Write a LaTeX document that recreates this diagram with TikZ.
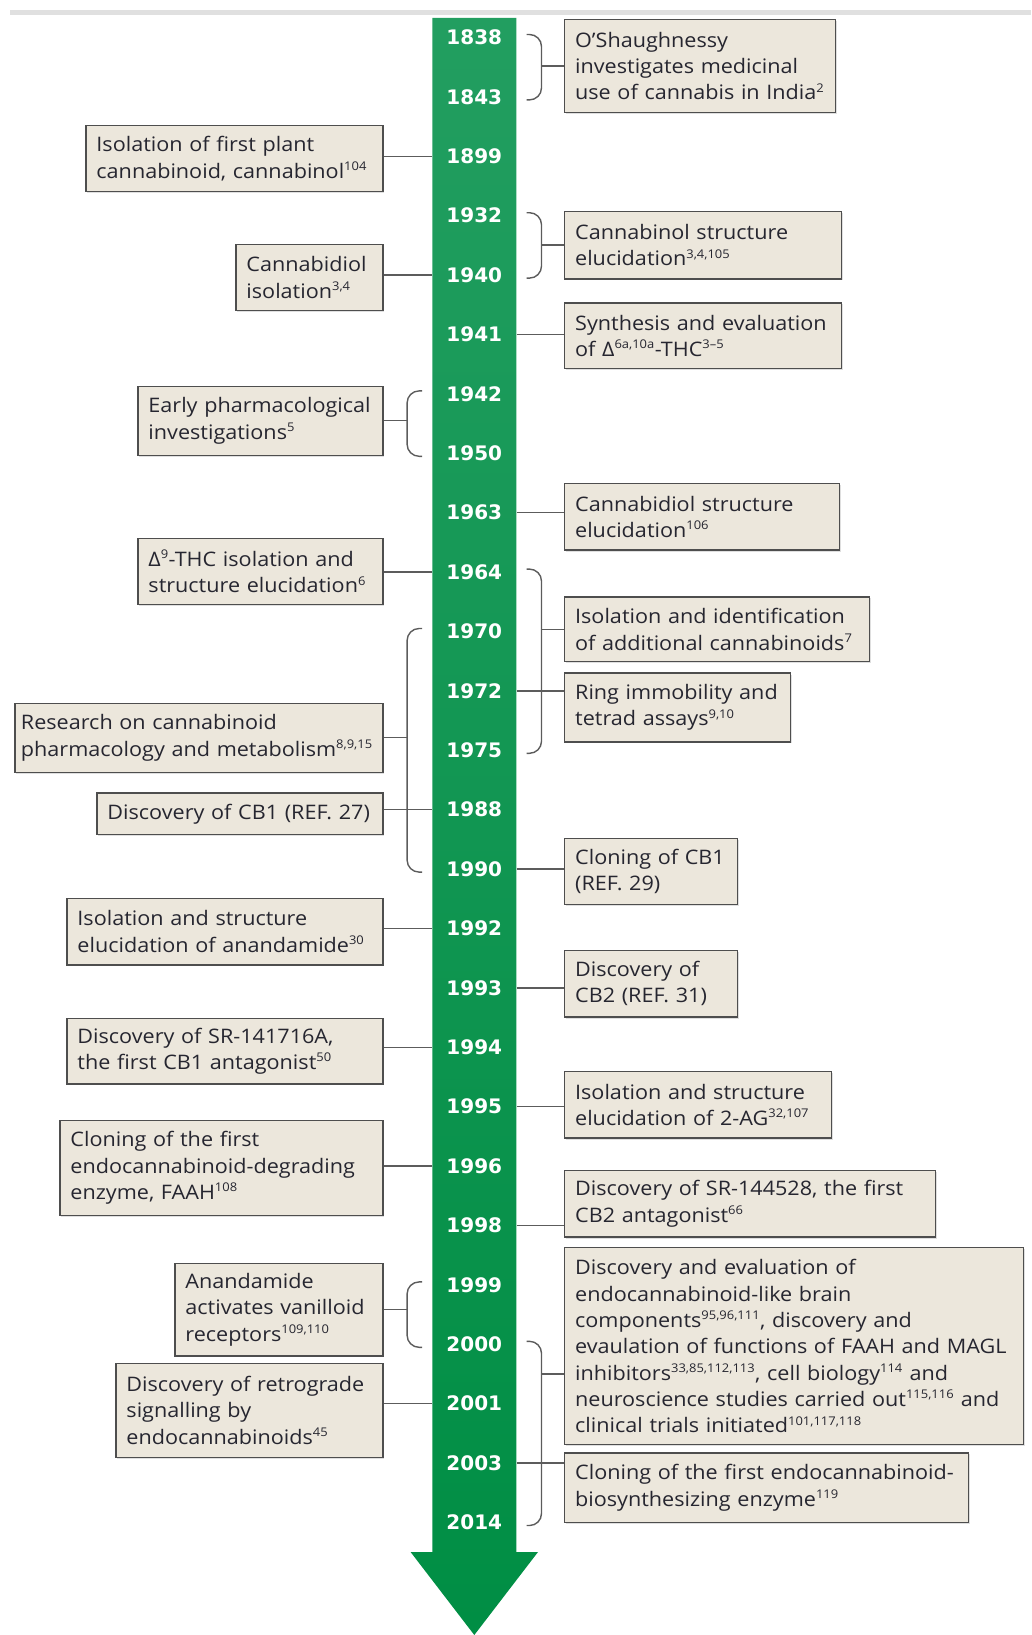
\documentclass[tikz,border=0pt]{standalone}
\usepackage{fontspec}
\setmainfont{Open Sans}[FakeStretch=1.08]
\newfontfamily\yearfont{DejaVu Sans}
\usetikzlibrary{calc, positioning, shadows}
\definecolor{bartop}{RGB}{34,158,96}
\definecolor{barbottom}{RGB}{0,142,68}
\definecolor{boxfill}{RGB}{236,231,220}
\definecolor{boxline}{RGB}{78,78,78}
\definecolor{linkgray}{RGB}{92,92,92}
\definecolor{boxtext}{RGB}{38,38,48}
\newcommand{\sref}[1]{\textsuperscript{\fontsize{12}{12}\selectfont #1}}

\begin{document}
\begin{tikzpicture}[x=1pt, y=-1pt, node distance=59.4pt,
  yr/.style={text=white, font=\yearfont\bfseries\fontsize{20}{24}\selectfont, minimum width=84pt, inner sep=0pt},
  evt/.style={draw=boxline, fill=boxfill, line width=1.3pt, align=left, inner xsep=10.5pt, inner ysep=0pt, text=boxtext, font=\fontsize{20}{26.3}\selectfont, drop shadow={shadow xshift=1pt, shadow yshift=-1.5pt, opacity=.25}},
  link/.style={draw=linkgray, line width=1.4pt},
  brk/.style={draw=linkgray, line width=1.4pt, rounded corners=12pt}]
\useasboundingbox (0,0) rectangle (1031,1635);
% rule and arrow %
\draw[black!12, line width=5pt] (10,12.5) -- (1031,12.5);
\shade[top color=bartop, bottom color=barbottom] (432.3,18) -- (516.3,18) -- (516.3,1552) -- (538,1552) -- (474.3,1635) -- (410.6,1552) -- (432.3,1552) -- cycle;
% years %
\node[yr] (y1838) at (474.3,37.5) {1838};
\node[yr, below of = y1838] (y1843) {1843};
\node[yr, below of = y1843] (y1899) {1899};
\node[yr, below of = y1899] (y1932) {1932};
\node[yr, below of = y1932] (y1940) {1940};
\node[yr, below of = y1940] (y1941) {1941};
\node[yr, below of = y1941] (y1942) {1942};
\node[yr, below of = y1942] (y1950) {1950};
\node[yr, below of = y1950] (y1963) {1963};
\node[yr, below of = y1963] (y1964) {1964};
\node[yr, below of = y1964] (y1970) {1970};
\node[yr, below of = y1970] (y1972) {1972};
\node[yr, below of = y1972] (y1975) {1975};
\node[yr, below of = y1975] (y1988) {1988};
\node[yr, below of = y1988] (y1990) {1990};
\node[yr, below of = y1990] (y1992) {1992};
\node[yr, below of = y1992] (y1993) {1993};
\node[yr, below of = y1993] (y1994) {1994};
\node[yr, below of = y1994] (y1995) {1995};
\node[yr, below of = y1995] (y1996) {1996};
\node[yr, below of = y1996] (y1998) {1998};
\node[yr, below of = y1998] (y1999) {1999};
\node[yr, below of = y1999] (y2000) {2000};
\node[yr, below of = y2000] (y2001) {2001};
\node[yr, below of = y2001] (y2003) {2003};
\node[yr, below of = y2003] (y2014) {2014};
% right events %
\node[evt, anchor=north west, text width=250pt, minimum height=93pt] (r1) at (564,18.8) {O’Shaughnessy\\investigates medicinal\\use of cannabis in India\sref{2}};
\node[evt, anchor=north west, text width=256pt, minimum height=67.7pt] (r2) at (564,210.6) {Cannabinol structure\\elucidation\sref{3,4,105}};
\node[evt, anchor=north west, text width=256pt, minimum height=65.7pt] (r3) at (564,302.3) {Synthesis and evaluation\\of Δ\sref{6a,10a}-THC\sref{3–5}};
\node[evt, anchor=north west, text width=254pt, minimum height=66.7pt] (r4) at (564,482.7) {Cannabidiol structure\\elucidation\sref{106}};
\node[evt, anchor=north west, text width=284pt, minimum height=64.7pt] (r5) at (564,596.3) {Isolation and identification\\of additional cannabinoids\sref{7}};
\node[evt, anchor=north west, text width=205pt, minimum height=68.8pt] (r6) at (564,672.4) {Ring immobility and\\tetrad assays\sref{9,10}};
\node[evt, anchor=north west, text width=152pt, minimum height=66pt] (r7) at (564,838) {Cloning of CB1\\(REF. 29)};
\node[evt, anchor=north west, text width=152pt, minimum height=66.7pt] (r8) at (564,949.7) {Discovery of\\CB2 (REF. 31)};
\node[evt, anchor=north west, text width=246pt, minimum height=66.8pt] (r9) at (564,1070.6) {Isolation and structure\\elucidation of 2-AG\sref{32,107}};
\node[evt, anchor=north west, text width=350pt, minimum height=66.7pt] (r10) at (564,1169.7) {Discovery of SR-144528, the first\\CB2 antagonist\sref{66}};
\node[evt, anchor=north west, text width=438pt, minimum height=197pt] (r11) at (564,1247) {Discovery and evaluation of\\endocannabinoid-like brain\\components\sref{95,96,111}, discovery and\\evaulation of functions of FAAH and MAGL\\inhibitors\sref{33,85,112,113}, cell biology\sref{114} and\\neuroscience studies carried out\sref{115,116} and\\clinical trials initiated\sref{101,117,118}};
\node[evt, anchor=north west, text width=383pt, minimum height=69.8pt] (r12) at (564,1452.2) {Cloning of the first endocannabinoid-\\biosynthesizing enzyme\sref{119}};
% left events %
\node[evt, anchor=north east, text width=276pt, minimum height=65.8pt] (l1) at (383.6,125) {Isolation of first plant\\cannabinoid, cannabinol\sref{104}};
\node[evt, anchor=north east, text width=126pt, minimum height=65.6pt] (l2) at (383.6,244) {Cannabidiol\\isolation\sref{3,4}};
\node[evt, anchor=north east, text width=224pt, minimum height=68.8pt] (l3) at (383.6,385.7) {Early pharmacological\\investigations\sref{5}};
\node[evt, anchor=north east, text width=224pt, minimum height=65.6pt] (l4) at (383.6,538) {Δ\sref{9}-THC isolation and\\structure elucidation\sref{6}};
\node[evt, anchor=north east, text width=356pt, inner xsep=6pt, minimum height=69pt] (l5) at (383.6,702.6) {Research on cannabinoid\\pharmacology and metabolism\sref{8,9,15}};
\node[evt, anchor=north east, text width=265pt, minimum height=41.7pt] (l6) at (383.6,792.3) {Discovery of CB1 (REF. 27)};
\node[evt, anchor=north east, text width=295pt, minimum height=66.7pt] (l7) at (383.6,897.6) {Isolation and structure\\elucidation of anandamide\sref{30}};
\node[evt, anchor=north east, text width=295pt, minimum height=65.7pt] (l8) at (383.6,1017.5) {Discovery of SR-141716A,\\the first CB1 antagonist\sref{50}};
\node[evt, anchor=north east, text width=302pt, minimum height=95pt] (l9) at (383.6,1119.6) {Cloning of the first\\endocannabinoid-degrading\\enzyme, FAAH\sref{108}};
\node[evt, anchor=north east, text width=187pt, minimum height=92.8pt] (l10) at (383.6,1262.5) {Anandamide\\activates vanilloid\\receptors\sref{109,110}};
\node[evt, anchor=north east, text width=246pt, minimum height=94pt] (l11) at (383.6,1362.5) {Discovery of retrograde\\signalling by\\endocannabinoids\sref{45}};
% brackets %
\draw[brk] ($(y1838.east)+(10,-3)$) -- ++(15,0) coordinate (b1) |- ($(y1843.east)+(10,3)$);
\draw[brk] ($(y1932.east)+(10,-3)$) -- ++(15,0) coordinate (b2) |- ($(y1940.east)+(10,3)$);
\draw[brk] ($(y1964.east)+(10,-3)$) -- ++(15,0) coordinate (b5) |- ($(y1975.east)+(10,3)$);
\draw[brk] ($(y2000.east)+(10,-3)$) -- ++(15,0) coordinate (b11) |- ($(y2014.east)+(10,3)$);
\draw[brk] ($(y1942.west)+(-10,-3)$) -- ++(-15,0) coordinate (b3) |- ($(y1950.west)+(-10,3)$);
\draw[brk] ($(y1970.west)+(-10,-3)$) -- ++(-15,0) coordinate (b6) |- ($(y1990.west)+(-10,3)$);
\draw[brk] ($(y1999.west)+(-10,-3)$) -- ++(-15,0) coordinate (b10) |- ($(y2000.west)+(-10,3)$);
% links %
\draw[link] (r1.west) -- (r1.west -| b1);
\draw[link] (r2.west) -- (r2.west -| b2);
\draw[link] (r5.west) -- (r5.west -| b5);
\draw[link] ([yshift=-28pt]r11.west) -- ([yshift=-28pt]r11.west -| b11);
\draw[link] (l3.east) -- (l3.east -| b3);
\draw[link] (l5.east) -- (l5.east -| b6);
\draw[link] (l10.east) -- (l10.east -| b10);
\draw[link] (y1941.east) -- (y1941.east -| r3.west);
\draw[link] (y1963.east) -- (y1963.east -| r4.west);
\draw[link] (y1972.east) -- (y1972.east -| r6.west);
\draw[link] (y1990.east) -- (y1990.east -| r7.west);
\draw[link] (y1993.east) -- (y1993.east -| r8.west);
\draw[link] (y1995.east) -- (y1995.east -| r9.west);
\draw[link] (y1998.east) -- (y1998.east -| r10.west);
\draw[link] (y2003.east) -- (y2003.east -| r12.west);
\draw[link] (y1899.west) -- (y1899.west -| l1.east);
\draw[link] (y1940.west) -- (y1940.west -| l2.east);
\draw[link] (y1964.west) -- (y1964.west -| l4.east);
\draw[link] (y1988.west) -- (y1988.west -| l6.east);
\draw[link] (y1992.west) -- (y1992.west -| l7.east);
\draw[link] (y1994.west) -- (y1994.west -| l8.east);
\draw[link] (y1996.west) -- (y1996.west -| l9.east);
\draw[link] (y2001.west) -- (y2001.west -| l11.east);
\end{tikzpicture}
\end{document}
